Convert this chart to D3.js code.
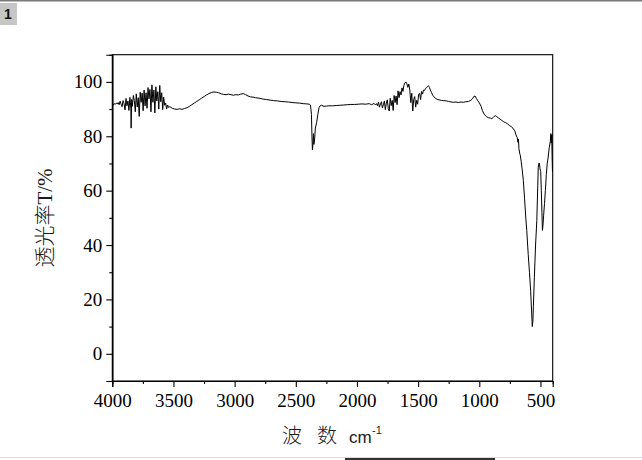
<!DOCTYPE html>
<html>
<head>
<meta charset="utf-8">
<script src="https://cdn.jsdelivr.net/npm/d3@7"></script>
<style>
  html, body { margin: 0; padding: 0; background: #fff; }
  svg { display: block; }
</style>
</head>
<body>
<svg id="chart" width="642" height="460"></svg>
<script>
// ---- data ----
const wavenumbers = [
  4000,3992,3984,3976,3968,3960,3952,3944,3936,3928,3920,3912,3904,3896,3888,3880,3872,3864,3856,3848,3846,3842,
  3836,3828,3820,3812,3804,3796,3788,3780,3772,3764,3756,3748,3740,3732,3724,3716,3708,3700,3692,3684,3676,3668,
  3660,3652,3644,3636,3628,3620,3612,3604,3596,3588,3580,3572,3564,3556,3548,3540,3530,3510,3490,3470,3450,3430,
  3410,3390,3370,3350,3330,3310,3290,3270,3250,3230,3210,3190,3170,3150,3130,3110,3090,3070,3050,3030,3010,2990,
  2970,2950,2930,2910,2890,2870,2850,2830,2800,2770,2740,2710,2680,2650,2620,2590,2560,2530,2500,2470,2440,2410,
  2390,2380,2372,2368,2364,2360,2356,2352,2346,2340,2330,2320,2310,2300,2290,2270,2250,2230,2200,2170,2140,2110,
  2080,2050,2020,1990,1960,1930,1900,1880,1860,1848,1840,1832,1824,1816,1808,1800,1792,1784,1776,1768,1760,1752,
  1744,1736,1728,1720,1712,1704,1696,1688,1680,1672,1664,1656,1648,1640,1632,1624,1616,1608,1600,1592,1584,1576,
  1568,1560,1552,1544,1536,1528,1520,1512,1504,1496,1488,1480,1472,1464,1456,1448,1440,1432,1424,1416,1408,1400,
  1390,1380,1370,1360,1345,1330,1310,1290,1270,1250,1230,1210,1190,1170,1150,1130,1110,1090,1070,1055,1045,1035,
  1025,1015,1000,985,975,965,955,940,925,910,898,885,870,860,845,830,815,800,785,770,755,740,725,710,700,690,684,
  680,676,670,664,658,650,640,630,620,612,600,590,580,572,567,562,558,550,540,530,522,518,512,508,504,498,493,488,
  484,480,474,467,460,452,445,438,428,420,415,412,408,405,402
];
const transmittance = [
  91.8,91.5,92.0,91.7,92.2,91.9,92.4,91.6,92.9,91.8,90.9,93.1,92.0,89.7,93.9,91.2,93.0,89.5,94.3,90.1,83.0,93.5,
  91.0,95.0,93.2,89.0,95.6,90.8,94.2,87.3,96.2,92.5,95.9,89.4,97.0,91.2,96.0,90.3,97.9,93.8,97.2,89.0,98.9,92.5,
  97.0,88.6,98.2,93.0,96.4,90.0,98.7,92.7,96.0,89.8,94.4,91.4,92.2,90.0,91.5,90.6,90.9,90.3,90.0,89.9,90.1,89.9,
  90.2,90.5,91.0,91.6,92.2,92.8,93.4,94.0,94.6,95.2,95.7,96.1,96.3,96.2,96.0,95.6,95.4,95.3,95.5,95.3,95.1,95.3,
  95.2,95.5,95.7,95.3,94.8,94.5,94.4,94.2,94.0,93.7,93.5,93.3,93.1,93.0,92.8,92.7,92.6,92.4,92.3,92.2,92.0,91.9,
  91.8,91.5,88.0,80.0,75.0,77.0,81.0,77.0,79.0,83.0,85.0,88.0,90.5,91.3,91.4,91.0,91.1,91.2,91.2,91.3,91.4,91.5,
  91.6,91.7,91.7,91.8,91.9,91.8,92.0,91.6,92.1,91.5,92.0,91.2,92.6,90.7,91.8,92.7,90.4,91.6,93.0,89.8,92.2,93.4,
  90.2,89.3,94.0,91.3,93.2,89.5,95.0,92.4,94.8,91.6,96.7,94.2,96.4,95.2,97.8,96.5,98.8,99.6,100.0,99.3,98.0,99.2,
  97.0,92.4,95.8,89.3,93.6,94.6,90.7,93.2,91.8,95.4,95.8,93.5,96.5,95.5,97.0,96.8,97.6,97.8,98.3,98.6,98.0,97.0,
  96.0,95.0,94.5,94.0,93.6,93.4,93.2,93.1,93.0,92.8,92.6,92.5,92.6,92.4,92.6,92.5,92.7,92.8,93.2,93.8,94.6,94.8,
  94.0,93.3,92.3,91.0,89.5,88.5,87.8,87.2,86.8,86.7,86.5,87.0,87.6,87.3,86.8,86.3,85.8,85.3,85.0,84.6,84.0,83.6,
  83.0,82.0,80.5,79.5,77.8,
  79.0,75.5,73.8,72.8,70.8,68.0,63.7,57.0,50.0,45.4,36.5,30.0,23.0,15.0,10.0,12.0,17.3,28.0,40.0,49.0,62.0,68.6,
  70.2,70.0,68.0,67.0,60.0,52.0,
  45.4,47.0,51.0,55.3,60.0,66.0,69.9,72.0,75.9,78.0,81.0,77.5,80.5,73.0,67.0
];
const xMajorTicks = [4000,3500,3000,2500,2000,1500,1000,500];
const xMinorTicks = [3750,3250,2750,2250,1750,1250,750];
const yMajorTicks = [0,20,40,60,80,100];
const yMinorTicks = [-10,10,30,50,70,90];
const yLabelCJK = "透光率";
const yLabelLatin = "T/%";
const xLabelParts = ["波", "数", "cm", "-1"];
const panelLabel = "1";

// ---- layout ----
const svg = d3.select("#chart");
const L = 112.3, R = 552.7, T = 54.7, B = 381;
const x = d3.scaleLinear().domain([4000, 400]).range([L, R]);
const y = d3.scaleLinear().domain([-10, 110]).range([B, T]);

// window chrome
svg.append("line").attr("x1",0).attr("x2",642).attr("y1",0.5).attr("y2",0.5)
  .attr("stroke","#7a7a7a").attr("stroke-width",2);
svg.append("rect").attr("x",0).attr("y",3).attr("width",17).attr("height",22).attr("fill","#c6c6c6");
svg.append("text").attr("x",8).attr("y",19).attr("text-anchor","middle")
  .attr("font-family","Liberation Sans, Arial, sans-serif").attr("font-size",14).attr("font-weight","bold")
  .attr("fill","#111").text(panelLabel);
svg.append("line").attr("x1",0).attr("x2",642).attr("y1",457.5).attr("y2",457.5)
  .attr("stroke","#dcdcdc").attr("stroke-width",1);
svg.append("line").attr("x1",345).attr("x2",495).attr("y1",459).attr("y2",459)
  .attr("stroke","#333").attr("stroke-width",2);

// frame
svg.append("rect").attr("x",L).attr("y",T).attr("width",R-L).attr("height",B-T)
  .attr("fill","none").attr("stroke","#000").attr("stroke-width",1.1);

const tickFont = "Liberation Serif, 'Times New Roman', serif";

// x axis
const gx = svg.append("g").attr("transform",`translate(0,${B})`);
gx.call(d3.axisBottom(x).tickValues(xMajorTicks).tickSize(6).tickPadding(6.5).tickFormat(d3.format("d")));
gx.append("g").call(d3.axisBottom(x).tickValues(xMinorTicks).tickSize(3).tickFormat(""));
gx.selectAll(".domain").attr("stroke","#000").attr("stroke-width",1.1);
gx.selectAll(".tick line").attr("stroke","#000").attr("stroke-width",1.1);
gx.selectAll(".tick text").attr("font-family",tickFont).attr("font-size",19).attr("fill","#000");

// y axis
const gy = svg.append("g").attr("transform",`translate(${L},0)`);
gy.call(d3.axisLeft(y).tickValues(yMajorTicks).tickSize(6).tickPadding(4).tickFormat(d3.format("d")));
gy.append("g").call(d3.axisLeft(y).tickValues(yMinorTicks).tickSize(3).tickFormat(""));
gy.selectAll(".domain").attr("stroke","#000").attr("stroke-width",1.1);
gy.selectAll(".tick line").attr("stroke","#000").attr("stroke-width",1.1);
gy.selectAll(".tick text").attr("font-family",tickFont).attr("font-size",19).attr("fill","#000");

// spectrum
const pts = wavenumbers.map((w,i)=>[w, transmittance[i]]);
svg.append("path").datum(pts)
  .attr("fill","none").attr("stroke","#000").attr("stroke-width",1)
  .attr("stroke-linejoin","round")
  .attr("d", d3.line().x(d=>x(d[0])).y(d=>y(d[1])));

// y label
const yl = svg.append("text")
  .attr("transform","translate(52,218) rotate(-90)")
  .attr("text-anchor","middle").attr("fill","#1a1a1a").attr("font-size",21);
yl.append("tspan").attr("font-family","'Noto Sans CJK SC', sans-serif").attr("font-weight",300).text(yLabelCJK);
yl.append("tspan").attr("font-family",tickFont).text(yLabelLatin);

// x label
const xl = svg.append("text").attr("y",443).attr("fill","#1a1a1a");
xl.append("tspan").attr("x",282).attr("font-family","'Noto Sans CJK SC', sans-serif").attr("font-weight",300).attr("font-size",20).text(xLabelParts[0]);
xl.append("tspan").attr("x",317).attr("font-family","'Noto Sans CJK SC', sans-serif").attr("font-weight",300).attr("font-size",20).text(xLabelParts[1]);
xl.append("tspan").attr("x",349).attr("font-family","Liberation Sans, Arial, sans-serif").attr("font-size",17).text(xLabelParts[2]);
xl.append("tspan").attr("x",372).attr("dy",-9).attr("font-family","Liberation Sans, Arial, sans-serif").attr("font-size",11).text(xLabelParts[3]);
</script>
</body>
</html>
